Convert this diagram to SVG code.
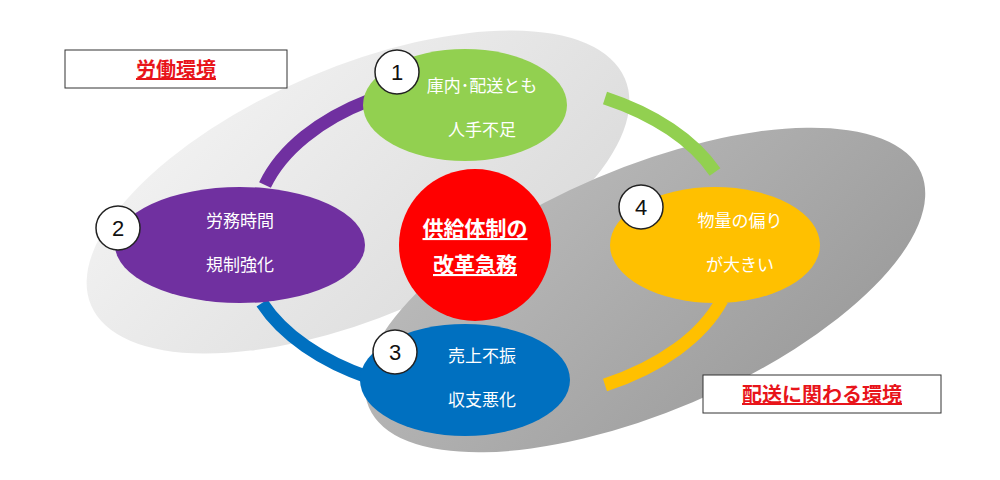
<svg xmlns="http://www.w3.org/2000/svg" width="1000" height="480" viewBox="0 0 1000 480">
<defs>
<linearGradient id="lg" x1="0" y1="0" x2="1" y2="1"><stop offset="0" stop-color="#f4f4f4"/><stop offset="1" stop-color="#d9d9d9"/></linearGradient>
<linearGradient id="dg" x1="0" y1="0" x2="1" y2="1"><stop offset="0" stop-color="#bdbdbd"/><stop offset="1" stop-color="#999"/></linearGradient>
<style>
.t{font-family:"Noto Sans CJK JP","Noto Sans",sans-serif;fill:#fff;font-size:17px;text-anchor:middle}
.c{fill:#fff;stroke:#222;stroke-width:1.5}
.n{font-family:"Liberation Sans",sans-serif;font-size:22px;text-anchor:middle;fill:#111}
.lb{fill:#fff;stroke:#333;stroke-width:1}
.lt{font-family:"Noto Sans CJK JP",sans-serif;font-weight:bold;font-size:20px;fill:#e8141a;text-anchor:middle;text-decoration:underline}
</style>
</defs>
<ellipse cx="358" cy="192" rx="290" ry="125" transform="rotate(-23 358 192)" fill="url(#lg)"/>
<ellipse cx="645" cy="290" rx="300" ry="122" transform="rotate(-23 645 290)" fill="url(#dg)"/>
<g id="connectors" fill="none" stroke-width="13">
<path d="M265,185 A245,150 0 0 1 370,100" stroke="#7030a0"/>
<path d="M605,98 A245,150 0 0 1 715,172" stroke="#92d050"/>
<path d="M722,300 A245,150 0 0 1 605,385" stroke="#ffc000"/>
<path d="M262,303 A245,150 0 0 0 370,378" stroke="#0070c0"/>
</g>
<g id="n1"><ellipse cx="465" cy="105" rx="102" ry="56" fill="#92d050"/><text class="t" x="482" y="92">庫内･配送とも</text><text class="t" x="482" y="136">人手不足</text></g>
<g id="n2"><ellipse cx="240" cy="245" rx="125" ry="58" fill="#7030a0"/><text class="t" x="240" y="227">労務時間</text><text class="t" x="240" y="271">規制強化</text></g>
<g id="n3"><ellipse cx="465" cy="380" rx="105" ry="56" fill="#0070c0"/><text class="t" x="482" y="362">売上不振</text><text class="t" x="482" y="406">収支悪化</text></g>
<g id="n4"><ellipse cx="715" cy="245" rx="105" ry="58" fill="#ffc000"/><text class="t" x="740" y="227">物量の偏り</text><text class="t" x="740" y="271">が大きい</text></g>
<g id="center"><circle cx="475" cy="245" r="76" fill="#ff0000"/><text class="t" x="475" y="236" style="font-size:21px;font-weight:bold;text-decoration:underline">供給体制の</text><text class="t" x="475" y="272" style="font-size:21px;font-weight:bold;text-decoration:underline">改革急務</text></g>
<g id="b1"><circle class="c" cx="397" cy="72" r="22"/><text class="n" x="397" y="80">1</text></g>
<g id="b2"><circle class="c" cx="118" cy="228" r="22"/><text class="n" x="118" y="236">2</text></g>
<g id="b3"><circle class="c" cx="395" cy="352" r="22"/><text class="n" x="395" y="360">3</text></g>
<g id="b4"><circle class="c" cx="641" cy="207" r="22"/><text class="n" x="641" y="215">4</text></g>
<g id="l1"><rect class="lb" x="65" y="50" width="222" height="38"/><text class="lt" x="176" y="77">労働環境</text></g>
<g id="l2"><rect class="lb" x="703" y="375" width="238" height="38"/><text class="lt" x="822" y="402">配送に関わる環境</text></g>
</svg>
